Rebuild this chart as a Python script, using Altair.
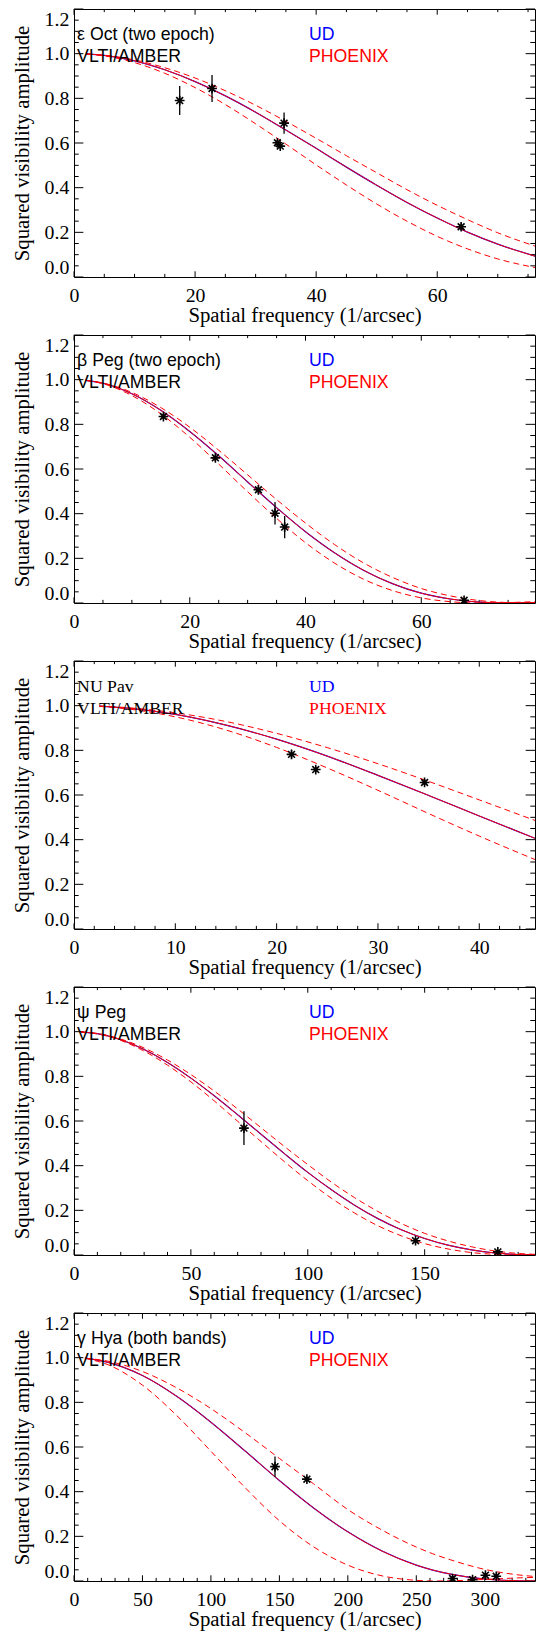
import altair as alt
import pandas as pd

K = 1.04                      # overall size factor
W, H = round(443 * K), 268
SPACING = 58
SERIF = "Liberation Serif"
SANS = "Liberation Sans"

# ---------------- data ----------------
names = ["ε Oct (two epoch)", "β Peg (two epoch)", "NU Pav", "ψ Peg", "γ Hya (both bands)"]
instrument = "VLTI/AMBER"
xmax = [76.15, 79.65, 45.5, 197.2, 336.7]
x_major = [[0, 20, 40, 60], [0, 20, 40, 60], [0, 10, 20, 30, 40],
           [0, 50, 100, 150], [0, 50, 100, 150, 200, 250, 300]]
x_minor_step = [5, 5, 2, 10, 10]
y_major = [0.0, 0.2, 0.4, 0.6, 0.8, 1.0, 1.2]
y_minor_step = 0.05

p1_x = [2, 5, 10, 15, 20, 25, 30, 35, 40, 45, 50, 55, 60, 65, 70, 76.2]
p1_fit = [0.999, 0.992, 0.968, 0.928, 0.875, 0.811, 0.738, 0.658, 0.576, 0.492, 0.411, 0.334, 0.264, 0.201, 0.147, 0.093]
p1_up = [0.999, 0.993, 0.972, 0.937, 0.891, 0.834, 0.769, 0.697, 0.621, 0.543, 0.467, 0.391, 0.321, 0.257, 0.198, 0.138]
p1_lo = [0.998, 0.990, 0.960, 0.912, 0.848, 0.772, 0.686, 0.595, 0.502, 0.412, 0.327, 0.250, 0.182, 0.126, 0.081, 0.042]
p1_ox = [17.46, 22.8, 33.6, 34.07, 34.7, 63.95]
p1_oy = [0.790, 0.844, 0.601, 0.586, 0.689, 0.225]
p1_oe = [0.065, 0.060, 0.012, 0.012, 0.048, 0.015]

p2_x = [2, 5, 10, 15, 20, 25, 30, 35, 40, 45, 50, 55, 60, 65, 70, 75, 79.7]
p2_fit = [0.997, 0.984, 0.937, 0.863, 0.768, 0.659, 0.542, 0.427, 0.319, 0.225, 0.147, 0.087, 0.044, 0.018, 0.004, 0.000, 0.002]
p2_up = [0.998, 0.985, 0.943, 0.875, 0.787, 0.684, 0.574, 0.463, 0.358, 0.262, 0.180, 0.115, 0.065, 0.032, 0.011, 0.002, 0.000]
p2_lo = [0.997, 0.982, 0.929, 0.847, 0.742, 0.622, 0.498, 0.379, 0.270, 0.179, 0.107, 0.056, 0.023, 0.006, 0.000, 0.002, 0.006]
p2_ox = [15.45, 24.43, 31.86, 34.73, 36.4, 67.4]
p2_oy = [0.835, 0.650, 0.507, 0.402, 0.340, 0.012]
p2_oe = [0.012, 0.012, 0.020, 0.050, 0.050, 0.010]

p3_x = [2.5, 5, 10, 15, 20, 25, 30, 35, 40, 45.5]
p3_fit = [0.998, 0.990, 0.961, 0.913, 0.850, 0.774, 0.688, 0.598, 0.506, 0.406]
p3_up = [0.998, 0.992, 0.968, 0.929, 0.876, 0.812, 0.740, 0.661, 0.578, 0.486]
p3_lo = [0.997, 0.987, 0.950, 0.891, 0.813, 0.721, 0.621, 0.517, 0.416, 0.311]
p3_ox = [21.47, 23.86, 34.6]
p3_oy = [0.782, 0.714, 0.656]
p3_oe = [0.020, 0.012, 0.012]

p4_x = [3, 10, 20, 30, 40, 50, 60, 70, 80, 90, 100, 110, 120, 130, 140, 150, 160, 170, 180, 190, 197.2]
p4_fit = [0.998, 0.991, 0.964, 0.920, 0.862, 0.792, 0.713, 0.628, 0.541, 0.454, 0.370, 0.293, 0.223, 0.163, 0.113, 0.074, 0.044, 0.023, 0.009, 0.002, 0.000]
p4_up = [0.999, 0.992, 0.967, 0.927, 0.873, 0.808, 0.734, 0.654, 0.570, 0.486, 0.405, 0.327, 0.257, 0.195, 0.141, 0.097, 0.063, 0.037, 0.018, 0.007, 0.003]
p4_lo = [0.998, 0.990, 0.961, 0.913, 0.850, 0.775, 0.690, 0.599, 0.508, 0.418, 0.333, 0.255, 0.188, 0.131, 0.086, 0.051, 0.027, 0.011, 0.003, 0.000, 0.000]
p4_ox = [72.7, 146.1, 181.3]
p4_oy = [0.568, 0.064, 0.014]
p4_oe = [0.076, 0.012, 0.008]

p5_x = [8, 25, 50, 75, 100, 125, 150, 175, 200, 225, 250, 262, 275, 300, 325, 336.7]
p5_fit = [0.998, 0.979, 0.920, 0.827, 0.711, 0.582, 0.450, 0.327, 0.220, 0.134, 0.071, 0.049, 0.031, 0.009, 0.001, 0.000]
p5_up = [0.998, 0.984, 0.938, 0.865, 0.772, 0.664, 0.549, 0.435, 0.320, 0.228, 0.152, 0.122, 0.095, 0.052, 0.027, 0.020]
p5_lo = [0.997, 0.968, 0.877, 0.741, 0.581, 0.418, 0.270, 0.153, 0.071, 0.023, 0.003, 0.000, 0.001, 0.007, 0.014, 0.016]
p5_ox = [146.8, 170.1, 276.5, 291.1, 300.5, 308.4]
p5_oy = [0.512, 0.456, 0.011, 0.006, 0.026, 0.021]
p5_oe = [0.045, 0.012, 0.005, 0.005, 0.010, 0.008]

curves = [(p1_x, p1_fit, p1_up, p1_lo), (p2_x, p2_fit, p2_up, p2_lo), (p3_x, p3_fit, p3_up, p3_lo),
          (p4_x, p4_fit, p4_up, p4_lo), (p5_x, p5_fit, p5_up, p5_lo)]
observations = [(p1_ox, p1_oy, p1_oe), (p2_ox, p2_oy, p2_oe), (p3_ox, p3_oy, p3_oe),
                (p4_ox, p4_oy, p4_oe), (p5_ox, p5_oy, p5_oe)]

ASTERISK = "M-1,0L1,0M0,-1L0,1M-0.7,-0.7L0.7,0.7M-0.7,0.7L0.7,-0.7"
YT_MAJ, YT_MIN = 9 * K, 4.5 * K
XT_MAJ, XT_MIN = 5.5 * K, 3 * K


def panel(i):
    cx, fit, up, lo = curves[i]
    ox, oy, oe = observations[i]
    fit_df = pd.DataFrame({"x": cx, "y": fit})
    band_df = pd.DataFrame({"x": cx + cx, "y": up + lo, "c": ["up"] * len(cx) + ["lo"] * len(cx)})
    obs_df = pd.DataFrame({"x": ox, "y": oy, "lo": [a - b for a, b in zip(oy, oe)],
                           "hi": [a + b for a, b in zip(oy, oe)]})

    xs = alt.Scale(domain=[0, xmax[i]], nice=False, zero=False)
    ys = alt.Scale(domain=[0, 1.2], nice=False, zero=False)

    step = x_minor_step[i]
    n = int(xmax[i] // step)
    x_min_t = [k * step for k in range(n + 1) if k * step not in x_major[i]]
    y_min_t = [round(k * y_minor_step, 2) for k in range(25)]
    y_min_t = [v for v in y_min_t if v not in y_major]

    xmaj_df = pd.DataFrame({"v": x_major[i]})
    xmin_df = pd.DataFrame({"v": x_min_t})
    ymaj_df = pd.DataFrame({"v": y_major})
    ymin_df = pd.DataFrame({"v": y_min_t})

    x_lab = alt.Axis(values=x_major[i], format="d", title="Spatial frequency (1/arcsec)",
                     ticks=False, domain=False, labelPadding=8, titlePadding=1,
                     labelFlush=False, labelOverlap=False)
    y_lab = alt.Axis(values=y_major, format=".1f", title="Squared visibility amplitude",
                     ticks=False, domain=False, labelPadding=5 * K, titlePadding=11 * K,
                     labelFlush=True, labelOverlap=False)

    def yticks(df, ln):
        left = alt.Chart(df).mark_rule(color="black", strokeWidth=1).encode(
            y=alt.Y("v:Q", scale=ys, axis=None), x=alt.value(0), x2=alt.value(ln))
        right = alt.Chart(df).mark_rule(color="black", strokeWidth=1).encode(
            y=alt.Y("v:Q", scale=ys, axis=None), x=alt.value(W), x2=alt.value(W - ln))
        return [left, right]

    def xticks(df, ln):
        bottom = alt.Chart(df).mark_rule(color="black", strokeWidth=1).encode(
            x=alt.X("v:Q", scale=xs, axis=None), y=alt.value(H), y2=alt.value(H - ln))
        top = alt.Chart(df).mark_rule(color="black", strokeWidth=1).encode(
            x=alt.X("v:Q", scale=xs, axis=None), y=alt.value(0), y2=alt.value(ln))
        return [bottom, top]

    tick_layers = (yticks(ymaj_df, YT_MAJ) + yticks(ymin_df, YT_MIN)
                   + xticks(xmaj_df, XT_MAJ) + xticks(xmin_df, XT_MIN))

    dashed = alt.Chart(band_df).mark_line(color="#ff0000", strokeWidth=1, strokeDash=[6, 4],
                                          interpolate="monotone", clip=True).encode(
        x=alt.X("x:Q", scale=xs, axis=None), y=alt.Y("y:Q", scale=ys, axis=None), detail="c:N")
    ud = alt.Chart(fit_df).mark_line(color="#0000ff", strokeWidth=1.2, interpolate="monotone",
                                     clip=True).encode(
        x=alt.X("x:Q", scale=xs, axis=x_lab), y=alt.Y("y:Q", scale=ys, axis=y_lab))
    phx = alt.Chart(fit_df).mark_line(color="#ff0000", strokeWidth=1.0, interpolate="monotone",
                                      clip=True).encode(
        x=alt.X("x:Q", scale=xs, axis=None), y=alt.Y("y:Q", scale=ys, axis=None))
    bars = alt.Chart(obs_df).mark_rule(color="black", strokeWidth=1.3, clip=True).encode(
        x=alt.X("x:Q", scale=xs, axis=None), y=alt.Y("lo:Q", scale=ys, axis=None), y2="hi:Q")
    pts = alt.Chart(obs_df).mark_point(shape=ASTERISK, size=95, filled=False, color="black",
                                       strokeWidth=1.6, opacity=1, clip=True).encode(
        x=alt.X("x:Q", scale=xs, axis=None), y=alt.Y("y:Q", scale=ys, axis=None))

    font = SERIF if i == 2 else SANS
    tdf = pd.DataFrame({"a": [0]})

    def txt(s, x, y, color):
        return alt.Chart(tdf).mark_text(text=s, align="left", baseline="middle", font=font,
                                        fontSize=17.7, color=color).encode(
            x=alt.value(x * K), y=alt.value(y * K))

    texts = [txt(names[i], 3, 25, "black"), txt(instrument, 3, 46.5, "black"),
             txt("UD", 226, 25, "#0000ff"), txt("PHOENIX", 226, 46.5, "#ff0000")]

    return alt.layer(ud, *tick_layers, dashed, phx, bars, pts, *texts).resolve_axis(
        x="independent", y="independent").properties(width=W, height=H)


chart = alt.vconcat(*[panel(i) for i in range(5)], spacing=SPACING, bounds="flush").properties(
    padding={"left": 3, "top": 0, "right": 5, "bottom": 0}
).configure_view(stroke="black", strokeWidth=1).configure_axis(
    grid=False, labelFont=SERIF, titleFont=SERIF, labelFontSize=19.8, titleFontSize=20.8,
    titleFontWeight="normal", labelColor="black", titleColor="black")

chart.save("out.html", embed_options={"renderer": "svg", "actions": False})
